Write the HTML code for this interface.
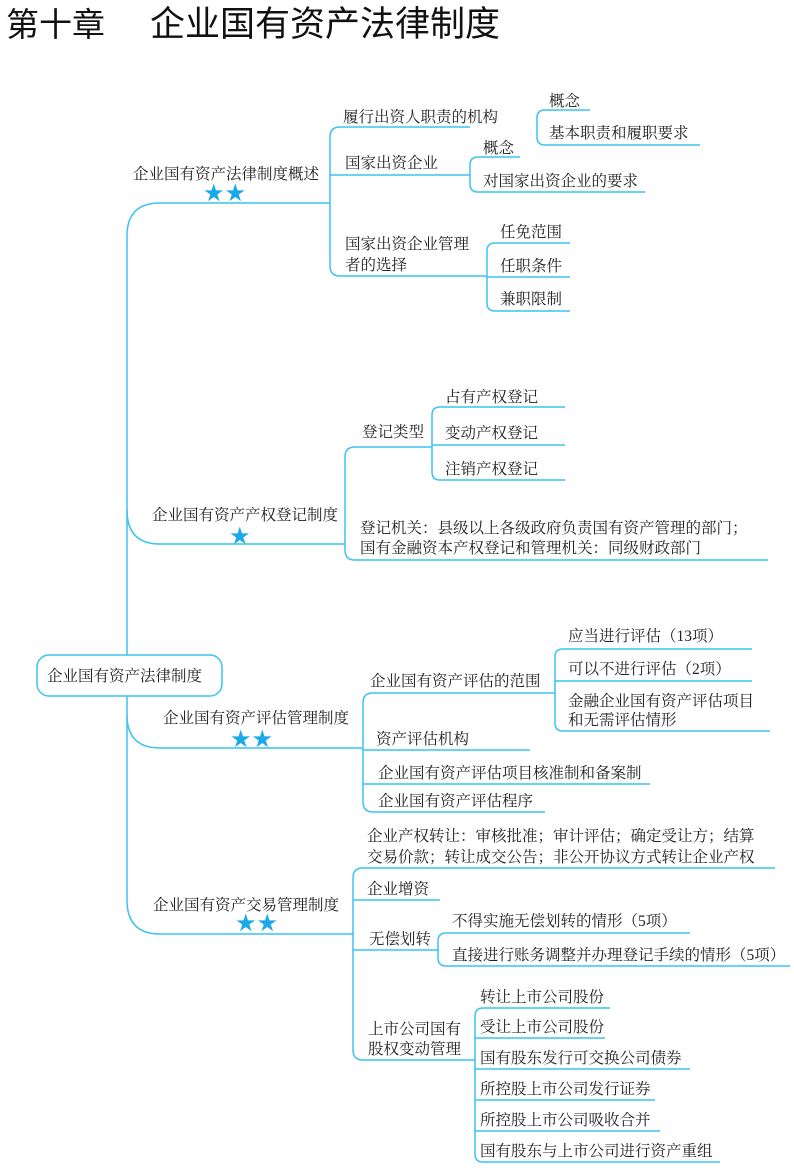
<!DOCTYPE html>
<html><head><meta charset="utf-8"><style>
html,body{margin:0;padding:0;background:#fff;}
svg text{font-family:"Liberation Serif","Noto Serif CJK SC",serif;font-size:15.5px;fill:#222;}
</style></head><body>
<svg width="794" height="1164" viewBox="0 0 794 1164" xmlns="http://www.w3.org/2000/svg">
<text x="6" y="36" style="font-family:'Liberation Sans','Noto Sans CJK SC',sans-serif;font-size:33px;fill:#111">第十章</text>
<text x="150" y="36" style="font-family:'Liberation Sans','Noto Sans CJK SC',sans-serif;font-size:35px;fill:#111">企业国有资产法律制度</text>
<g fill="none" stroke="#3cc3f0" stroke-width="1.5">
<path d="M330,203 H160 Q127,203 127,236 V900 Q127,934 160,934 H353"/>
<path d="M127,510 Q127,544 160,544 H345"/>
<path d="M127,715 Q127,748 160,748 H363"/>
<path d="M470,127 H340 Q330,127 330,137 V266 Q330,276 340,276 H487"/>
<path d="M330,175 H470"/>
<path d="M590,110 H545 Q537,110 537,118 V137 Q537,145 545,145 H700"/>
<path d="M520,157 H478 Q470,157 470,165 V184 Q470,192 478,192 H645"/>
<path d="M570,243 H495 Q487,243 487,251 V303 Q487,311 495,311 H570"/>
<path d="M487,277 H570"/>
<path d="M432,447 H355 Q345,447 345,457 V550 Q345,560 355,560 H768"/>
<path d="M565,407 H440 Q432,407 432,415 V472 Q432,480 440,480 H565"/>
<path d="M432,445 H565"/>
<path d="M555,693 H373 Q363,693 363,703 V802 Q363,812 373,812 H545"/>
<path d="M363,750 H530"/>
<path d="M363,784 H650"/>
<path d="M752,649 H563 Q555,649 555,657 V723 Q555,731 563,731 H770"/>
<path d="M555,681 H752"/>
<path d="M775,868 H363 Q353,868 353,878 V1050 Q353,1060 363,1060 H475"/>
<path d="M353,900 H440"/>
<path d="M353,950 H438"/>
<path d="M690,933 H446 Q438,933 438,941 V958 Q438,966 446,966 H790"/>
<path d="M610,1008 H483 Q475,1008 475,1016 V1154 Q475,1162 483,1162 H720"/>
<path d="M475,1038 H605"/>
<path d="M475,1069 H690"/>
<path d="M475,1100 H655"/>
<path d="M475,1131 H660"/>
</g>
<rect x="37" y="655" width="185" height="41" rx="12" fill="#fff" stroke="#3cc3f0" stroke-width="1.5"/>
<text x="47" y="681">企业国有资产法律制度</text>
<text x="203" y="201" style="font-family:'DejaVu Sans',sans-serif;font-size:24px;fill:#1ba8e6">★★</text>
<text x="229" y="544" style="font-family:'DejaVu Sans',sans-serif;font-size:24px;fill:#1ba8e6">★</text>
<text x="230" y="747" style="font-family:'DejaVu Sans',sans-serif;font-size:24px;fill:#1ba8e6">★★</text>
<text x="235" y="931" style="font-family:'DejaVu Sans',sans-serif;font-size:24px;fill:#1ba8e6">★★</text>

<text x="133" y="179">企业国有资产法律制度概述</text>
<text x="343" y="122">履行出资人职责的机构</text>
<text x="549" y="106">概念</text>
<text x="549" y="138">基本职责和履职要求</text>
<text x="345" y="168">国家出资企业</text>
<text x="483" y="153">概念</text>
<text x="483" y="186">对国家出资企业的要求</text>
<text x="345" y="249">国家出资企业管理</text>
<text x="345" y="270">者的选择</text>
<text x="500" y="237">任免范围</text>
<text x="500" y="271">任职条件</text>
<text x="500" y="304">兼职限制</text>

<text x="152" y="520">企业国有资产产权登记制度</text>
<text x="362" y="437">登记类型</text>
<text x="445" y="402">占有产权登记</text>
<text x="445" y="438">变动产权登记</text>
<text x="445" y="474">注销产权登记</text>
<text x="360" y="533">登记机关：县级以上各级政府负责国有资产管理的部门；</text>
<text x="360" y="553">国有金融资本产权登记和管理机关：同级财政部门</text>

<text x="163" y="723">企业国有资产评估管理制度</text>
<text x="370" y="686">企业国有资产评估的范围</text>
<text x="568" y="641">应当进行评估（13项）</text>
<text x="568" y="674">可以不进行评估（2项）</text>
<text x="568" y="706">金融企业国有资产评估项目</text>
<text x="568" y="725">和无需评估情形</text>
<text x="376" y="744">资产评估机构</text>
<text x="378" y="778">企业国有资产评估项目核准制和备案制</text>
<text x="378" y="806">企业国有资产评估程序</text>

<text x="153" y="910">企业国有资产交易管理制度</text>
<text x="367" y="841">企业产权转让：审核批准；审计评估；确定受让方；结算</text>
<text x="367" y="862">交易价款；转让成交公告；非公开协议方式转让企业产权</text>
<text x="367" y="894">企业增资</text>
<text x="369" y="944">无偿划转</text>
<text x="452" y="926">不得实施无偿划转的情形（5项）</text>
<text x="452" y="960">直接进行账务调整并办理登记手续的情形（5项）</text>
<text x="368" y="1034">上市公司国有</text>
<text x="368" y="1054">股权变动管理</text>
<text x="480" y="1002">转让上市公司股份</text>
<text x="480" y="1032">受让上市公司股份</text>
<text x="480" y="1063">国有股东发行可交换公司债券</text>
<text x="480" y="1094">所控股上市公司发行证券</text>
<text x="480" y="1125">所控股上市公司吸收合并</text>
<text x="480" y="1156">国有股东与上市公司进行资产重组</text>
</svg>
</body></html>
